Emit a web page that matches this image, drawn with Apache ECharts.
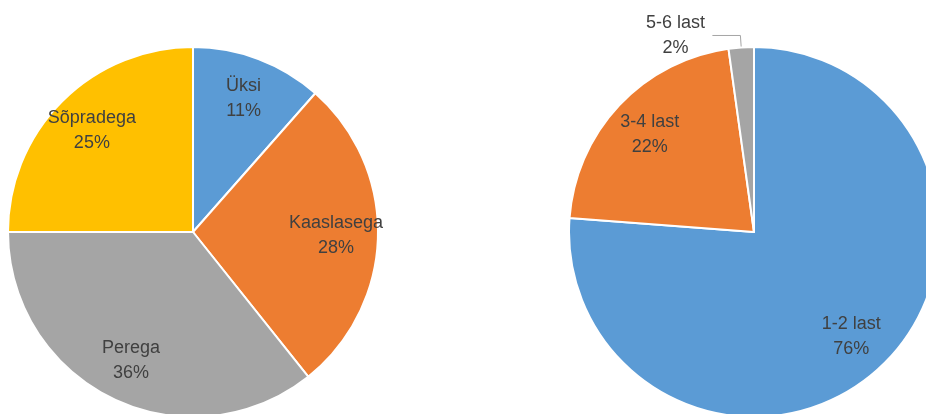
<!DOCTYPE html>
<html>
<head>
<meta charset="utf-8">
<script src="https://cdn.jsdelivr.net/npm/echarts@6/dist/echarts.min.js"></script>
<style>
  html, body { margin: 0; padding: 0; background: #fff; }
  #chart { width: 926px; height: 414px; }
</style>
</head>
<body>
<div id="chart"></div>
<script>
  // vasak diagramm
  var leftNames = ['Üksi', 'Kaaslasega', 'Perega', 'Sõpradega'];
  var leftValues = [11.5, 27.8, 35.7, 25];
  var leftColors = ['#5B9BD5', '#ED7D31', '#A5A5A5', '#FFC000'];

  // parem diagramm
  var rightNames = ['1-2 last', '3-4 last', '5-6 last'];
  var rightValues = [76.2, 21.6, 2.2];
  var rightColors = ['#5B9BD5', '#ED7D31', '#A5A5A5'];

  var labelFont = {
    color: '#404040',
    fontFamily: 'Liberation Sans',
    fontSize: 18,
    lineHeight: 25
  };

  function makeData(names, values, colors) {
    return names.map(function (n, i) {
      return { name: n, value: values[i], itemStyle: { color: colors[i] } };
    });
  }

  function pieSeries(center, names, values, colors) {
    return {
      type: 'pie',
      center: center,
      radius: [0, 185],
      startAngle: 90,
      clockwise: true,
      silent: true,
      animation: false,
      percentPrecision: 0,
      itemStyle: { borderColor: '#fff', borderWidth: 2 },
      label: { show: false },
      labelLine: { show: false },
      data: makeData(names, values, colors)
    };
  }

  // labels series: transparent ring so labels sit further out
  function labelSeries(center, names, values, skip) {
    return {
      type: 'pie',
      center: center,
      radius: [95, 185],
      startAngle: 90,
      clockwise: true,
      silent: true,
      animation: false,
      percentPrecision: 0,
      itemStyle: { color: 'rgba(0,0,0,0)' },
      label: Object.assign({ show: true, position: 'inside', formatter: '{b}\n{d}%' }, labelFont),
      labelLine: { show: false },
      data: names.map(function (n, i) {
        var d = { name: n, value: values[i] };
        if (skip.indexOf(i) >= 0) d.label = { show: false };
        return d;
      })
    };
  }

  var right = pieSeries([754, 232], rightNames, rightValues, rightColors);
  right.data[2].label = {
    show: true,
    position: 'outside',
    formatter: '{a|{b}}\n{a|{d}%}',
    rich: { a: Object.assign({ width: 64, align: 'center' }, labelFont) }
  };
  right.data[2].labelLine = { show: true, length: 12, length2: 28, lineStyle: { color: '#A5A5A5', width: 1 } };

  var chart = echarts.init(document.getElementById('chart'));
  chart.setOption({
    backgroundColor: '#fff',
    series: [
      pieSeries([193, 232], leftNames, leftValues, leftColors),
      labelSeries([193, 232], leftNames, leftValues, []),
      right,
      labelSeries([754, 232], rightNames, rightValues, [2])
    ]
  });
</script>
</body>
</html>
